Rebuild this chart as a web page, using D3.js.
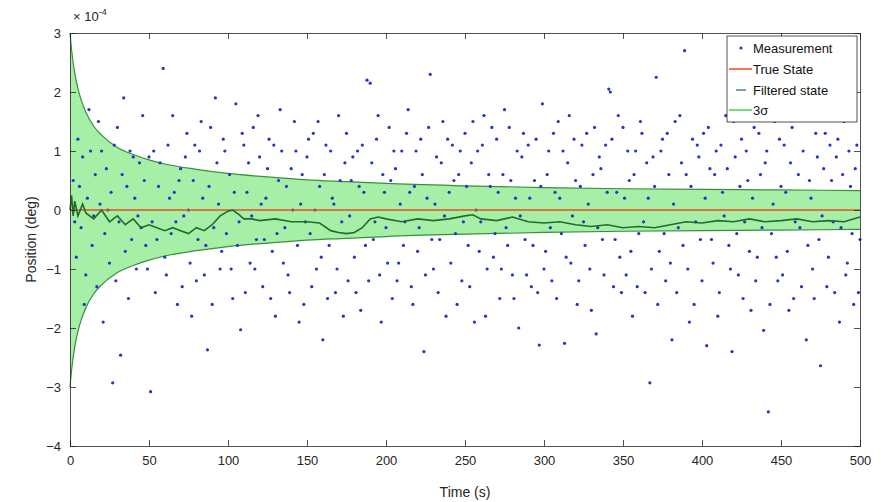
<!DOCTYPE html>
<html><head><meta charset="utf-8">
<script src="https://cdn.jsdelivr.net/npm/d3@7"></script>
<style>body{margin:0;background:#fff}svg{display:block}text{font-family:"Liberation Sans",Arial,sans-serif}</style>
</head><body><svg id="c" width="881" height="502"></svg>
<script>
// ---- data (values in units of 1e-4 deg) ----
const xTicks = [0,50,100,150,200,250,300,350,400,450,500];
const yTicks = [-4,-3,-2,-1,0,1,2,3];
const sigmaT = [0,1,2,3,5,7,10,15,20,30,40,50,60,80,100,125,150,175,200,250,300,350,400,450,500];
const sigma3 = [3.0,2.72,2.5,2.32,2.06,1.87,1.66,1.42,1.27,1.06,0.94,0.85,0.78,0.69,0.62,0.56,0.51,0.48,0.45,0.41,0.38,0.36,0.35,0.34,0.33];
const trueT = [0,500];
const trueV = [0,0];
const filtT = [0,1,2,3,5,8,10,15,20,25,30,35,40,45,50,55,60,65,70,75,80,85,90,95,100,103,107,110,115,120,130,140,150,158,165,170,175,180,185,190,195,200,210,220,230,240,250,255,260,270,280,290,300,310,320,330,340,350,360,370,380,390,400,410,420,430,440,450,460,470,480,490,500];
const filtV = [0,0.25,-0.1,0.15,-0.1,0.1,-0.05,-0.15,0.0,-0.2,-0.1,-0.25,-0.15,-0.3,-0.25,-0.3,-0.35,-0.3,-0.35,-0.4,-0.3,-0.35,-0.25,-0.1,-0.02,0.0,-0.08,-0.15,-0.15,-0.18,-0.15,-0.2,-0.2,-0.22,-0.35,-0.38,-0.4,-0.38,-0.3,-0.15,-0.12,-0.15,-0.2,-0.15,-0.18,-0.15,-0.1,-0.08,-0.15,-0.18,-0.12,-0.2,-0.22,-0.2,-0.25,-0.28,-0.25,-0.3,-0.28,-0.3,-0.25,-0.2,-0.22,-0.18,-0.2,-0.15,-0.2,-0.18,-0.15,-0.2,-0.18,-0.2,-0.12];
const measT = [2,4,5,7,8,10,11,13,14,16,17,19,20,22,23,25,26,27,28,30,31,32,33,35,36,38,39,41,42,44,45,47,48,50,51,
52,54,56,59,60,62,64,66,68,70,72,74,76,78,80,82,84,86,87,89,91,93,95,97,99,
101,103,105,107,108,110,112,114,116,118,120,122,124,126,128,130,132,134,136,138,140,142,144,146,148,150,
152,154,156,158,160,162,164,166,168,170,172,174,176,178,180,182,184,186,188,190,192,194,196,198,200,
202,204,206,208,210,212,214,216,218,220,222,224,226,228,230,232,234,236,238,240,242,244,246,248,250,
252,254,256,258,260,262,264,266,268,270,272,274,276,278,280,282,284,286,288,290,292,294,297,299,
301,303,305,307,309,311,313,315,317,319,321,323,325,327,329,331,333,335,337,339,341,342,344,346,348,350,
352,354,356,358,360,362,364,366,367,369,371,373,375,377,379,381,383,385,387,389,391,393,395,397,399,
401,403,405,407,409,411,413,415,417,419,421,423,425,427,429,431,433,435,437,439,441,442,444,446,448,450,
452,454,456,458,460,462,464,466,468,470,472,474,475,477,479,481,483,485,487,489,491,493,495,497,499];
const measV = [0.5,-0.8,1.2,-0.3,0.9,-1.1,0.2,1.0,-0.6,0.6,-1.3,0.1,1.0,-0.4,0.7,-0.9,0.3,-2.93,1.1,1.4,-0.2,-2.46,0.6,-0.7,0.4,1.0,-0.5,0.2,-1.0,0.8,-0.3,0.5,-0.6,0.9,-3.08,
-0.2,-1.4,0.4,2.4,-0.8,1.1,-0.4,0.3,-1.6,0.7,-0.1,1.3,-0.9,0.5,-1.2,1.0,0.2,-0.6,-2.37,1.4,-0.3,0.8,-1.0,1.2,-0.4,
0.6,-1.5,1.8,-0.2,-2.03,1.1,0.3,-0.9,1.4,-0.5,0.9,-1.3,0.2,1.2,-0.7,-1.8,0.5,1.0,-0.3,-1.1,0.7,1.5,-0.6,0.1,-1.6,0.9,
-0.4,1.3,-1.0,0.4,-2.2,1.1,-0.6,0.2,-1.4,1.6,-0.2,0.8,-1.2,0.5,-0.8,1.0,-1.7,0.3,2.2,2.15,-0.5,1.2,-1.1,0.6,-0.3,
1.4,-1.5,0.7,-0.9,1.0,-0.2,1.7,-1.3,0.4,-0.7,1.2,-2.4,0.2,2.3,-1.0,0.9,-0.5,1.5,-1.8,0.3,1.1,-0.4,0.6,-1.2,1.3,
-0.6,0.8,-1.9,1.0,-0.2,1.6,-1.0,0.4,-0.8,1.2,-1.5,0.6,-0.3,1.4,-1.1,0.2,-2.0,0.9,-0.5,1.1,-1.3,0.5,-2.29,1.8,
-0.7,1.0,-1.2,0.3,1.5,-0.4,-2.26,0.8,-0.9,1.2,-1.6,0.4,-0.2,1.3,-1.0,0.6,-2.1,0.9,-0.5,1.1,2.05,2.0,-1.3,0.3,-0.8,1.4,
-1.1,0.5,-1.8,1.0,-0.4,1.3,-1.4,0.2,-2.93,0.9,2.25,-0.7,1.2,-1.2,0.6,-2.2,1.5,-0.3,0.8,2.7,-1.0,0.4,-1.6,1.1,-0.5,
1.3,-2.3,0.7,-0.9,1.0,-1.4,0.3,1.6,-0.6,-2.4,0.9,-1.1,1.2,-0.2,0.5,-1.7,1.4,-0.8,0.6,-2.04,1.0,-3.42,-0.4,1.5,-1.2,0.4,
1.1,-0.7,0.8,-1.5,1.7,-0.3,1.0,-2.2,0.5,-1.0,1.3,-0.5,-2.64,0.7,-1.3,1.1,-0.2,0.9,-1.9,0.6,-1.1,1.0,-0.4,0.7,-1.4];
const measT2 = [3,6,9,12,15,18,21,24,29,34,37,40,43,46,49,53,55,57,61,63,65,67,69,71,73,75,77,79,81,83,85,88,90,92,94,96,98,
102,104,106,109,111,113,115,117,119,121,123,125,127,129,131,133,135,137,139,141,143,145,147,149,151,153,155,157,159,161,163,165,167,169,171,173,175,177,179,181,183,185,187,189,191,193,195,197,199,
201,203,205,207,209,211,213,215,217,219,221,223,225,227,229,231,233,235,237,239,241,243,245,247,249,251,253,255,257,259,261,263,265,267,269,271,273,275,277,279,281,283,285,287,289,291,293,295,296,298,
300,302,304,306,308,310,312,314,316,318,320,322,324,326,328,330,332,334,336,338,340,343,345,347,349,351,353,355,357,359,361,363,365,368,370,372,374,376,378,380,382,384,386,388,390,392,394,396,398,
400,402,404,406,408,410,412,414,416,418,420,422,424,426,428,430,432,434,436,438,440,443,445,447,449,451,453,455,457,459,461,463,465,467,469,471,473,476,478,480,482,484,486,488,490,492,494,496,498,500];
const measV2 = [-0.2,0.4,-1.6,1.7,-0.1,1.5,-1.9,0.0,-1.2,1.9,-1.5,0.9,-0.1,1.6,-1.0,1.0,-0.5,0.8,-1.1,0.2,1.6,-0.2,0.5,-1.3,0.9,0.0,-1.8,1.1,-0.5,1.5,-1.1,0.4,-1.6,1.9,0.1,-0.7,1.0,
-1.0,0.3,-0.6,1.3,-1.4,0.8,-0.1,-1.0,1.6,0.1,-0.5,0.7,-1.5,1.1,-0.4,1.7,-0.9,0.4,-1.4,0.0,1.0,-1.9,0.6,-0.2,1.2,-1.3,0.0,1.5,-0.8,0.6,-1.5,1.0,0.1,-1.0,0.5,-1.8,1.3,-0.1,0.9,-1.4,0.4,1.1,-0.6,-1.2,0.8,-0.2,1.6,-1.9,0.3,
-0.9,0.5,1.0,-1.2,0.1,-0.6,1.3,0.3,-1.6,1.0,-0.3,0.6,-1.1,1.4,-0.5,0.1,-1.4,0.8,-0.1,1.2,-0.9,0.5,-1.6,1.0,-0.2,0.4,-1.3,1.5,0.0,-0.7,1.1,-1.8,0.6,1.4,-0.4,0.3,-1.0,1.7,-0.6,0.5,-1.5,1.0,-0.1,1.3,-1.1,0.2,-0.6,1.2,-1.4,0.4,
-1.0,0.6,-0.3,1.3,-1.5,0.2,1.0,-0.8,1.6,-0.1,0.5,-1.2,1.1,-0.6,0.1,-1.7,1.4,-0.3,0.7,-1.1,0.3,1.2,-0.5,1.6,-1.4,0.2,1.0,-0.7,0.6,-1.3,1.5,-0.2,0.8,-1.0,0.4,-1.6,1.0,-0.4,1.3,-0.9,0.1,-1.4,1.6,-0.6,0.6,-1.9,1.2,-0.2,0.9,
-1.2,0.2,1.4,-0.5,0.6,-1.8,1.1,-0.1,0.7,-1.0,1.5,-0.4,0.4,-1.5,1.0,-0.7,0.2,-1.2,1.3,-0.3,0.8,-1.6,0.1,-0.8,1.2,-1.1,0.3,-1.7,1.4,-0.2,0.6,-1.3,1.6,-0.6,0.2,-1.5,0.9,-0.1,1.3,-0.8,0.5,-1.4,1.2,-0.3,1.5,-0.9,0.4,-1.6,1.1,-0.5];
const legendLabels = ["Measurement","True State","Filtered state","3\u03C3"];

// ---- layout ----
const svg = d3.select("#c");
const L=70, R=860, T=33, B=446;
const x = d3.scaleLinear().domain([0,500]).range([L,R]);
const y = d3.scaleLinear().domain([-4,3]).range([B,T]);
const axisCol = "#262626";
const measCol = "#2434c8";

// band
const band = sigmaT.map((t,i)=>({t, s:sigma3[i]}));
svg.append("path").datum(band)
  .attr("d", d3.area().x(d=>x(d.t)).y0(d=>y(-d.s)).y1(d=>y(d.s)).curve(d3.curveMonotoneX))
  .attr("fill","#a6efa6").attr("stroke","none");
["up","dn"].forEach(k=>{
  svg.append("path").datum(band)
    .attr("d", d3.line().x(d=>x(d.t)).y(d=>y(k==="up"?d.s:-d.s)).curve(d3.curveMonotoneX))
    .attr("fill","none").attr("stroke","#3a8f3a").attr("stroke-width",1.2);
});

// measurements
const meas = measT.map((t,i)=>({t, v:measV[i]})).concat(measT2.map((t,i)=>({t, v:measV2[i]})));
svg.append("g").selectAll("circle").data(meas).join("circle")
  .attr("cx",d=>x(d.t)).attr("cy",d=>y(d.v)).attr("r",1.6)
  .attr("fill",measCol);

// true state
svg.append("path").datum(trueT.map((t,i)=>({t,v:trueV[i]})))
  .attr("d", d3.line().x(d=>x(d.t)).y(d=>y(d.v)))
  .attr("stroke","#e8501e").attr("stroke-width",1.5).attr("fill","none");

// filtered
const filt = filtT.map((t,i)=>({t, v:filtV[i]}));
svg.append("path").datum(filt)
  .attr("d", d3.line().x(d=>x(d.t)).y(d=>y(d.v)))
  .attr("stroke","#1e6e2a").attr("stroke-width",1.6).attr("fill","none");

// axes
const gx = svg.append("g").attr("transform",`translate(0,${B})`)
  .call(d3.axisBottom(x).tickValues(xTicks).tickSize(-6).tickPadding(10).tickFormat(d3.format("d")));
const gxt = svg.append("g").attr("transform",`translate(0,${T})`)
  .call(d3.axisTop(x).tickValues(xTicks).tickSize(-6).tickFormat(""));
const gy = svg.append("g").attr("transform",`translate(${L},0)`)
  .call(d3.axisLeft(y).tickValues(yTicks).tickSize(-6).tickPadding(9).tickFormat(d3.format("d")));
const gyr = svg.append("g").attr("transform",`translate(${R},0)`)
  .call(d3.axisRight(y).tickValues(yTicks).tickSize(-6).tickFormat(""));
[gx,gxt,gy,gyr].forEach(g=>{
  g.select(".domain").attr("stroke",axisCol).attr("stroke-width",0.8);
  g.selectAll(".tick line").attr("stroke",axisCol).attr("stroke-width",0.8);
  g.selectAll("text").attr("fill",axisCol).style("font-size","13px").style("font-family","'Liberation Sans',Arial,sans-serif");
});

// exponent
const ex = svg.append("text").attr("x",L+3).attr("y",T-12).attr("fill",axisCol).style("font-size","13px");
ex.append("tspan").text("\u00D7 10");
ex.append("tspan").attr("dy",-6).style("font-size","9px").text("-4");

// axis labels
svg.append("text").attr("x",(L+R)/2).attr("y",497).attr("text-anchor","middle").attr("fill",axisCol)
  .style("font-size","14px").text("Time (s)");
svg.append("text").attr("transform",`translate(36,${(T+B)/2}) rotate(-90)`).attr("text-anchor","middle").attr("fill",axisCol)
  .style("font-size","14px").text("Position (deg)");

// legend
const lg = svg.append("g");
lg.append("rect").attr("x",727).attr("y",36).attr("width",130).attr("height",86)
  .attr("fill","#fff").attr("stroke",axisCol).attr("stroke-width",0.8);
const ly = [48,69,90,110];
legendLabels.forEach((lab,i)=>{
  const yy = ly[i];
  if(i===0){ lg.append("circle").attr("cx",741).attr("cy",yy).attr("r",1.6).attr("fill",measCol); }
  if(i===1){ lg.append("line").attr("x1",729).attr("x2",752).attr("y1",yy).attr("y2",yy).attr("stroke","#e8501e").attr("stroke-width",1.5); }
  if(i===2){ lg.append("line").attr("x1",736).attr("x2",746).attr("y1",yy).attr("y2",yy).attr("stroke","#1e6e2a").attr("stroke-width",1.2); }
  if(i===3){ lg.append("line").attr("x1",729).attr("x2",752).attr("y1",yy).attr("y2",yy).attr("stroke","#4fcf4f").attr("stroke-width",1.5); }
  lg.append("text").attr("x",753).attr("y",yy+5).attr("fill","#111").style("font-size","13px").text(lab);
});
</script></body></html>
